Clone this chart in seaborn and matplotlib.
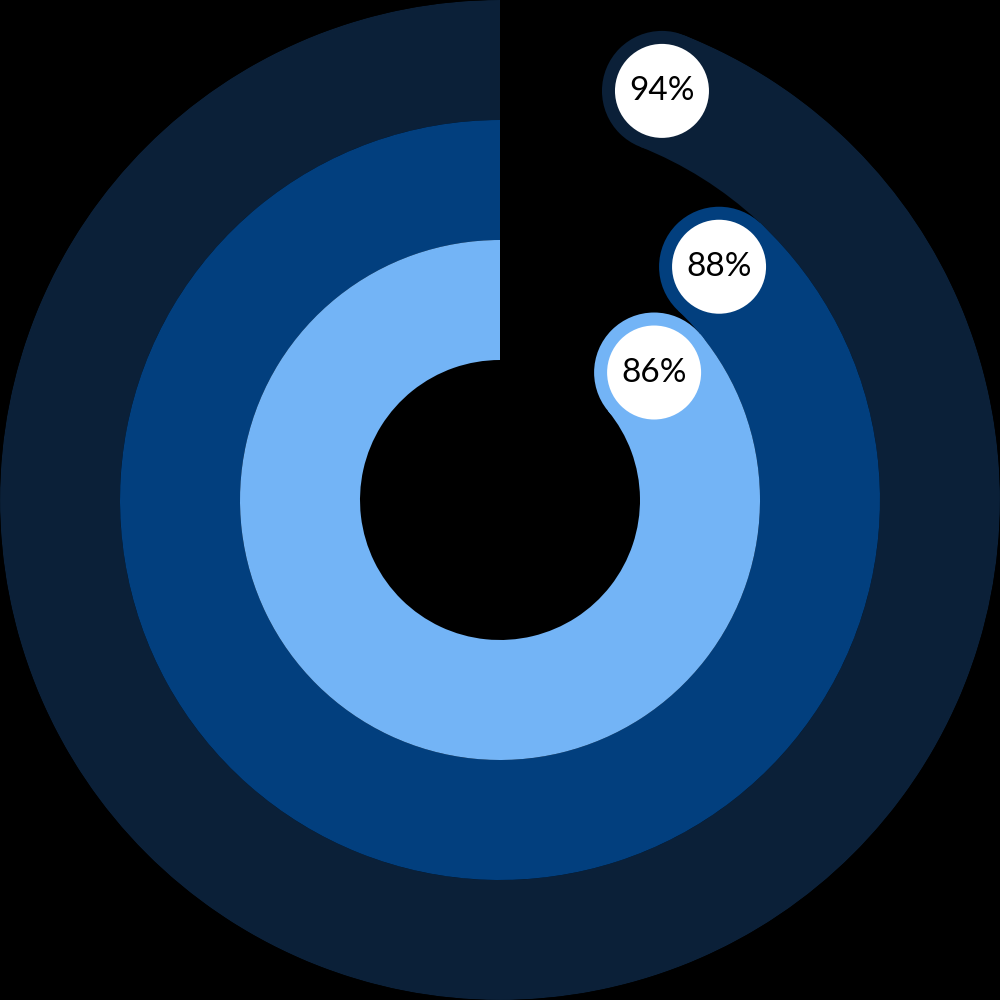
import numpy as np
import matplotlib
matplotlib.use("Agg")
import matplotlib.pyplot as plt
import seaborn as sns

sns.set_theme(style="dark")
plt.rcParams["font.family"] = ["Lato", "DejaVu Sans"]

# data: one ring per series, outermost first
LABELS: list[str] = ["94%", "88%", "86%"]
VALUES: list[float] = [94, 88, 86]
COLORS: list[str] = ["#0b2038", "#023f7e", "#73b4f6"]

RING_MID = [440, 320, 200]   # ring centre radius (pixels, axes spans 0-500)
RING_WIDTH = 120

fig = plt.figure(figsize=(10, 10), dpi=100, facecolor="black")
ax = fig.add_axes([0, 0, 1, 1], projection="polar")
ax.set_facecolor("black")
ax.set_theta_zero_location("N")
ax.set_theta_direction(1)  # counterclockwise from 12 o'clock
ax.set_rlim(0, 500)

# points per pixel at 100 dpi
PT = 72 / 100

for value, label, color, r in zip(VALUES, LABELS, COLORS, RING_MID):
    sweep = value / 100 * 2 * np.pi
    ax.barh(r, sweep, left=0, height=RING_WIDTH, color=color, edgecolor="none", align="center")
    # rounded end cap
    ax.scatter([sweep], [r], s=(RING_WIDTH * PT) ** 2, color=color, edgecolors="none", zorder=3)
    # white label bubble
    ax.scatter([sweep], [r], s=(94 * PT) ** 2, color="white", edgecolors="none", zorder=4)
    ax.text(sweep, r, label, ha="center", va="center", fontsize=24, color="black", zorder=5)

ax.set_xticks([])
ax.set_yticks([])
ax.grid(False)
ax.spines["polar"].set_visible(False)

fig.savefig("out.png", dpi=100, facecolor="black")
